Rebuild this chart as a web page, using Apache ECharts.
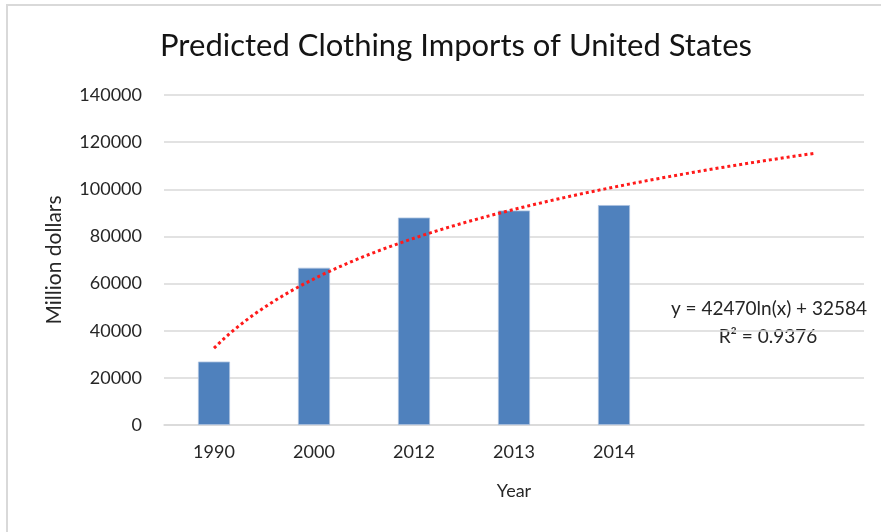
<!DOCTYPE html>
<html>
<head>
<meta charset="utf-8">
<script src="https://cdn.jsdelivr.net/npm/echarts@6/dist/echarts.min.js"></script>
<style>
  html, body { margin: 0; padding: 0; background: #ffffff; }
  #chart { width: 881px; height: 532px; }
</style>
</head>
<body>
<div id="chart"></div>
<script>
// Years shown on the category axis; two blank slots hold the forecast
const years = ['1990', '2000', '2012', '2013', '2014', '', ''];
// Clothing imports, million dollars
const imports = [26900, 66700, 88000, 91000, 93300];
// Y axis ticks
const yTicks = [0, 20000, 40000, 60000, 80000, 100000, 120000, 140000];
// Logarithmic trendline coefficients: y = a ln(x) + b
const trendSlope = 42470;
const trendIntercept = 32584;
const trendR2 = '0.9376';
// Trendline runs from the first category through two forecast periods
const trendStart = 1;
const trendEnd = 7;

const trendPoints = [];
for (let i = 0; i <= 120; i++) {
  const x = trendStart + (trendEnd - trendStart) * i / 120;
  trendPoints.push([x, trendSlope * Math.log(x) + trendIntercept]);
}

const FONT = 'Lato';
const TEXT = '#262626';
const chart = echarts.init(document.getElementById('chart'), null, { renderer: 'canvas' });

chart.setOption({
  animation: false,
  backgroundColor: '#ffffff',
  title: {
    text: 'Predicted Clothing Imports of United States',
    left: 451,
    top: 25,
    textAlign: 'center',
    textStyle: { fontFamily: FONT, fontSize: 31, fontWeight: 'normal', color: '#141414' }
  },
  grid: { left: 164, right: 17, top: 95, bottom: 107, containLabel: false },
  xAxis: [
    {
      type: 'category',
      data: years,
      name: 'Year',
      nameLocation: 'middle',
      nameGap: 57,
      nameTextStyle: { fontFamily: FONT, fontSize: 18, color: TEXT },
      axisLine: { show: true, lineStyle: { color: '#d9d9d9', width: 1.5 } },
      axisTick: { show: false },
      axisLabel: { fontFamily: FONT, fontSize: 18, color: TEXT, margin: 18 }
    },
    {
      type: 'value',
      min: 0.5,
      max: 7.5,
      show: false
    }
  ],
  yAxis: {
    type: 'value',
    min: yTicks[0],
    max: yTicks[yTicks.length - 1],
    interval: yTicks[1] - yTicks[0],
    name: 'Million dollars',
    nameLocation: 'middle',
    nameGap: 99,
    nameRotate: 90,
    nameTextStyle: { fontFamily: FONT, fontSize: 21, color: TEXT },
    axisLine: { show: false },
    axisTick: { show: false },
    axisLabel: {
      fontFamily: FONT, fontSize: 18, color: TEXT, margin: 22,
      formatter: (v) => String(v)
    },
    splitLine: { lineStyle: { color: '#d9d9d9', width: 1.5 } }
  },
  series: [
    {
      type: 'bar',
      data: imports,
      xAxisIndex: 0,
      barWidth: 32,
      itemStyle: { color: '#4f81bd', borderColor: '#a9c0de', borderWidth: 0.8 }
    },
    {
      type: 'line',
      data: trendPoints,
      xAxisIndex: 1,
      showSymbol: false,
      lineStyle: { color: '#ff1a1a', width: 3, type: [3, 3], cap: 'butt' },
      z: 5
    }
  ],
  graphic: [
    {
      type: 'rect',
      shape: { x: 7, y: 5, width: 900, height: 600 },
      style: { fill: 'none', stroke: '#d9d9d9', lineWidth: 2 },
      silent: true
    },
    {
      type: 'text',
      x: 769,
      y: 309,
      style: {
        text: 'y = ' + trendSlope + 'ln(x) + ' + trendIntercept,
        fontFamily: FONT, fontSize: 19, fill: TEXT,
        align: 'center', verticalAlign: 'middle'
      }
    },
    {
      type: 'text',
      x: 768,
      y: 337,
      style: {
        text: 'R² = ' + trendR2,
        fontFamily: FONT, fontSize: 19, fill: TEXT,
        align: 'center', verticalAlign: 'middle'
      }
    }
  ]
});
</script>
</body>
</html>
